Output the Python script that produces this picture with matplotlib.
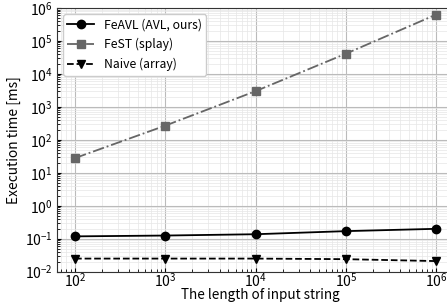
import matplotlib
matplotlib.use('Agg')
import matplotlib.pyplot as plt
import numpy as np

plt.rcParams['font.family'] = ['Noto Sans CJK JP', 'DejaVu Sans']
plt.rcParams['font.size'] = 10

lengths = [1e2, 1e3, 1e4, 1e5, 1e6]
feavl = [0.118, 0.125, 0.137, 0.17, 0.2]
fest = [28, 270, 3000, 41000, 630000]
naive = [0.025, 0.025, 0.025, 0.024, 0.021]

fig = plt.figure(figsize=(4.47, 3.07), dpi=100)
W, H = 447., 307.
ax = fig.add_axes([57/W, 35.3/H, (480-57)/W, 263.7/H])

ax.plot(lengths, feavl, '-', color='black', marker='o', markersize=6, lw=1.3,
        label='FeAVL (AVL, ours)')
ax.plot(lengths, fest, '-.', color='#666666', marker='s', markersize=6, lw=1.3,
        label='FeST (splay)')
ax.plot(lengths, naive, '--', color='black', marker='v', markersize=6, lw=1.3,
        label='Naive (array)')

ax.set_xscale('log')
ax.set_yscale('log')
ax.set_xlim(10**1.8, 10**(1.8 + (480-57)/90.25))
ax.set_ylim(1e-2, 1e6)
ax.set_xticks(lengths)
ax.set_yticks([10.0**k for k in range(-2, 7)])
ax.yaxis.set_minor_locator(matplotlib.ticker.LogLocator(base=10, subs=np.arange(2, 10), numticks=20))
ax.xaxis.set_minor_locator(matplotlib.ticker.LogLocator(base=10, subs=np.arange(2, 10), numticks=20))

ax.grid(True, which='major', color='#bbbbbb', lw=0.8)
ax.grid(True, which='minor', color='#e6e6e6', lw=0.5)
ax.set_axisbelow(True)
ax.tick_params(which='both', direction='in')
ax.tick_params(which='major', length=3, pad=3)
ax.tick_params(axis='x', which='major', pad=0)
ax.tick_params(which='minor', length=2)
for s in ax.spines.values():
    s.set_color('#333333')

ax.set_xlabel('The length of input string', fontsize=9.7, labelpad=-1)
ax.xaxis.label.set_x((260 - 57) / 423.)
ax.set_ylabel('Execution time [ms]', fontsize=9.9, labelpad=3)

leg = ax.legend(loc='upper left', fontsize=8.8, framealpha=1,
                edgecolor='#cccccc', handlelength=2.2, borderpad=0.35,
                labelspacing=0.55, handletextpad=0.8, borderaxespad=0.5)

fig.savefig('out.png', dpi=100)
